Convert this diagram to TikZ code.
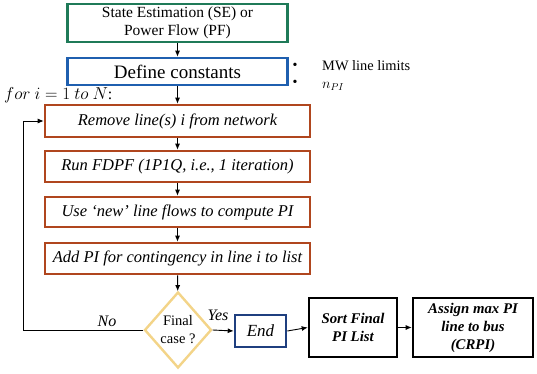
\documentclass[tikz,border=0pt]{standalone}
\usepackage{fontspec}
\setmainfont{LiberationSerif}[Extension=.ttf,UprightFont=*-Regular,ItalicFont=*-Italic,BoldFont=*-Bold,BoldItalicFont=*-BoldItalic]
\usetikzlibrary{shapes.geometric,arrows.meta,shadows}
\definecolor{segreen}{RGB}{31,122,88}
\definecolor{dcblue}{RGB}{31,95,175}
\definecolor{stepbrown}{RGB}{176,70,30}
\definecolor{dmgold}{RGB}{243,212,136}
\definecolor{endnavy}{RGB}{31,63,127}
\begin{document}
\begin{tikzpicture}[x=1pt,y=-1pt,
  base/.style={rectangle,inner sep=0pt,align=center,line width=2.6pt,fill=white,
    drop shadow={opacity=0.25,shadow xshift=1.2pt,shadow yshift=-1.2pt}},
  stepbox/.style={base,draw=stepbrown,minimum width=265pt,
    font=\fontsize{16.5}{19}\selectfont\itshape},
  blackbox/.style={base,draw=black,minimum height=59pt,
    font=\fontsize{14.8}{18}\selectfont\bfseries\itshape},
  arr/.style={-{Latex[length=6pt,width=5pt]},line width=0.9pt},
  lab/.style={inner sep=0pt,font=\fontsize{16}{19}\selectfont\itshape}]
\useasboundingbox (0,0) rectangle (537,374);
\node[base,draw=segreen,minimum width=220pt,minimum height=38pt,
  font=\fontsize{15.5}{18}\selectfont] (se) at (177.5,23) {State Estimation (SE) or\\Power Flow (PF)};
\node[base,draw=dcblue,minimum width=220pt,minimum height=27pt,
  font=\fontsize{19}{22}\selectfont] (dc) at (177.5,71.5) {Define constants};
\node[stepbox,minimum height=32pt] (rm) at (177.5,121) {Remove line(s) i from network};
\node[stepbox,minimum height=31pt] (run) at (177.5,166.5) {Run FDPF (1P1Q, i.e., 1 iteration)};
\node[stepbox,minimum height=30pt] (use) at (177.5,212) {Use ‘new’ line flows to compute PI};
\node[stepbox,minimum height=31pt] (add) at (177.5,258.5) {Add PI for contingency in line i to list};
\node[diamond,draw=dmgold,line width=2.4pt,fill=white,inner sep=0pt,
  minimum width=67pt,minimum height=76pt,align=center,
  font=\fontsize{14.5}{18}\selectfont] (dm) at (178,330) {Final\\case ?};
\node[base,draw=endnavy,minimum width=51pt,minimum height=32pt,
  font=\fontsize{17}{20}\selectfont\itshape] (end) at (260.5,331) {End};
\node[blackbox,minimum width=88pt] (sort) at (353,327.5) {Sort Final\\PI List};
\node[blackbox,minimum width=120pt] (asg) at (473,327.5) {Assign max PI\\line to bus\\(CRPI)};
% side notes
\node[inner sep=0pt,font=\fontsize{14}{16}\selectfont] (b1) at (295,66) {•};
\node[inner sep=0pt,font=\fontsize{14}{16}\selectfont] (b2) at (295,83) {•};
\node[inner sep=0pt,anchor=west,font=\fontsize{14.4}{16}\selectfont] (mw) at (322,66) {MW line limits};
\node[inner sep=0pt,anchor=west,font=\fontsize{14.4}{16}\selectfont] (npi) at (322,86) {$n_{PI}$};
\node[inner sep=0pt,anchor=west,font=\fontsize{16}{19}\selectfont] (for) at (4,95) {$for\ i = 1\ to\ N$:};
% connectors
\draw[arr] (se) -- (dc);
\draw[arr] (dc) -- (rm);
\draw[arr] (rm) -- (run);
\draw[arr] (run) -- (use);
\draw[arr] (use) -- (add);
\draw[arr] (add) -- (dm);
\draw[arr] (dm.east) -- (end.west);
\draw[arr] (end.east) -- (sort.west);
\draw[arr] (sort.east) -- (asg.west);
\coordinate (lp) at (23,330);
\draw[arr] (dm.west) -- (lp) |- (rm.west);
\node[lab] (no) at (107,321) {No};
\node[lab] (yes) at (218,315) {Yes};
\end{tikzpicture}
\end{document}
